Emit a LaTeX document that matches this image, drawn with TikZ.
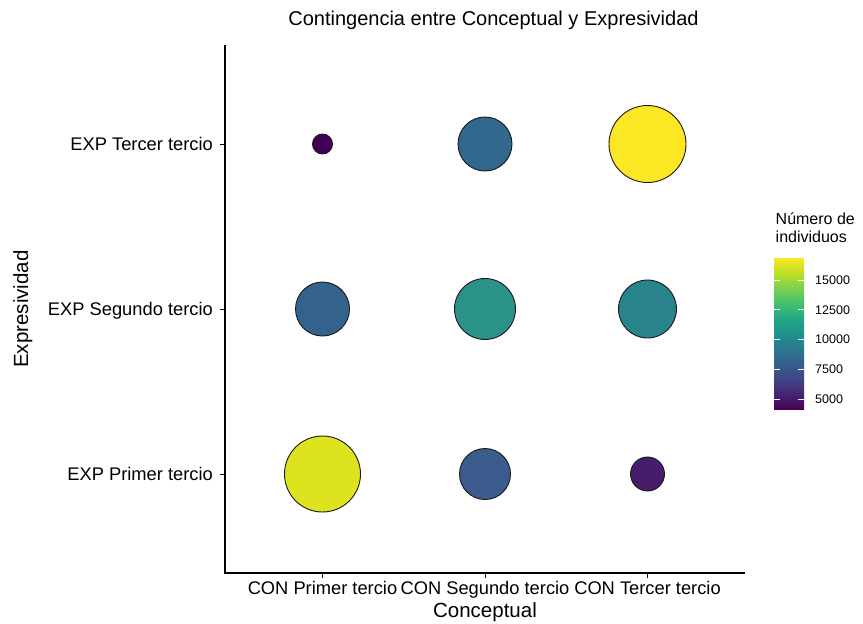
\documentclass[tikz,border=0pt]{standalone}
\usepackage{fontspec}
\setmainfont{Liberation Sans}
\usetikzlibrary{positioning}

% viridis stops
\definecolor{vir0}{HTML}{440154}
\definecolor{vir1}{HTML}{482475}
\definecolor{vir2}{HTML}{414487}
\definecolor{vir3}{HTML}{355F8D}
\definecolor{vir4}{HTML}{2A788E}
\definecolor{vir5}{HTML}{21918C}
\definecolor{vir6}{HTML}{22A884}
\definecolor{vir7}{HTML}{44BF70}
\definecolor{vir8}{HTML}{7AD151}
\definecolor{vir9}{HTML}{BDDF26}
\definecolor{vir10}{HTML}{FDE725}
\pgfdeclareverticalshading{viridis}{100bp}{color(0bp)=(vir0); color(25bp)=(vir0);
  color(30bp)=(vir1); color(35bp)=(vir2); color(40bp)=(vir3); color(45bp)=(vir4);
  color(50bp)=(vir5); color(55bp)=(vir6); color(60bp)=(vir7); color(65bp)=(vir8);
  color(70bp)=(vir9); color(75bp)=(vir10); color(100bp)=(vir10)}

% bubble colours
\definecolor{cPT}{HTML}{440154}
\definecolor{cST}{HTML}{31688E}
\definecolor{cTT}{HTML}{FDE725}
\definecolor{cPS}{HTML}{33638D}
\definecolor{cSS}{HTML}{2A9287}
\definecolor{cTS}{HTML}{28838B}
\definecolor{cPP}{HTML}{DDE31E}
\definecolor{cSP}{HTML}{3A5B8B}
\definecolor{cTP}{HTML}{471D6B}

\begin{document}
\begin{tikzpicture}[x=1pt,y=-1pt,
    bubble/.style={circle,draw=black!90,line width=0.9pt,inner sep=0pt},
    ticklab/.style={font=\fontsize{18.3}{18.3}\selectfont,inner sep=0pt},
    axtitle/.style={font=\fontsize{20.5}{20.5}\selectfont,inner sep=0pt},
    leglab/.style={font=\fontsize{12.5}{12.5}\selectfont,inner sep=0pt,anchor=base west}]
    \useasboundingbox (0,0) rectangle (863,624);

    \node[font=\fontsize{20}{20}\selectfont,inner sep=0pt,anchor=base] (title) at (493.5,25.7) {Contingencia entre Conceptual y Expresividad};

    % axes
    \draw[line width=1.2pt] (225,45) -- (225,573.6);
    \draw[line width=1.2pt] (224.4,573) -- (745,573);
    \draw[line width=0.8pt] (220,144) -- (225,144) (220,309) -- (225,309) (220,474) -- (225,474);
    \draw[line width=0.8pt] (322.5,573) -- (322.5,578) (485,573) -- (485,578) (647.5,573) -- (647.5,578);

    \node[ticklab,anchor=base east] (yl3) at (213,150.5) {EXP Tercer tercio};
    \node[ticklab,anchor=base east] (yl2) at (213,315.5) {EXP Segundo tercio};
    \node[ticklab,anchor=base east] (yl1) at (213,480.5) {EXP Primer tercio};
    \node[ticklab,anchor=base] (xl1) at (322.5,594) {CON Primer tercio};
    \node[ticklab,anchor=base] (xl2) at (485,594) {CON Segundo tercio};
    \node[ticklab,anchor=base] (xl3) at (647.5,594) {CON Tercer tercio};

    \node[axtitle,anchor=base] (xlab) at (485,617.5) {Conceptual};
    \node[axtitle,rotate=90,anchor=base] (ylab) at (28,309) {Expresividad};

    % bubbles
    \node[bubble,fill=cPT,minimum size=20pt] (bPT) at (322.5,144) {};
    \node[bubble,fill=cST,minimum size=54pt] (bST) at (485,144) {};
    \node[bubble,fill=cTT,minimum size=77pt] (bTT) at (647.5,144) {};
    \node[bubble,fill=cPS,minimum size=54pt] (bPS) at (322.5,309) {};
    \node[bubble,fill=cSS,minimum size=61pt] (bSS) at (485,309) {};
    \node[bubble,fill=cTS,minimum size=58pt] (bTS) at (647.5,309) {};
    \node[bubble,fill=cPP,minimum size=76pt] (bPP) at (322.5,474) {};
    \node[bubble,fill=cSP,minimum size=51pt] (bSP) at (485,474) {};
    \node[bubble,fill=cTP,minimum size=34pt] (bTP) at (647.5,474) {};

    % legend
    \node[font=\fontsize{16}{18.5}\selectfont,inner sep=0pt,align=left,anchor=west] (legtitle) at (775.5,227.5) {Número de\\individuos};
    \shade[shading=viridis] (774,258) rectangle (804,409);
    \draw[white,line width=0.5pt] (774,399) -- (780,399) (798,399) -- (804,399)
        (774,369.2) -- (780,369.2) (798,369.2) -- (804,369.2)
        (774,339.4) -- (780,339.4) (798,339.4) -- (804,339.4)
        (774,309.6) -- (780,309.6) (798,309.6) -- (804,309.6)
        (774,279.8) -- (780,279.8) (798,279.8) -- (804,279.8);
    \node[leglab] (l15) at (815,284.3) {15000};
    \node[leglab] (l12) at (815,314.1) {12500};
    \node[leglab] (l10) at (815,343.9) {10000};
    \node[leglab] (l7) at (815,373.7) {7500};
    \node[leglab] (l5) at (815,403.5) {5000};
\end{tikzpicture}
\end{document}
